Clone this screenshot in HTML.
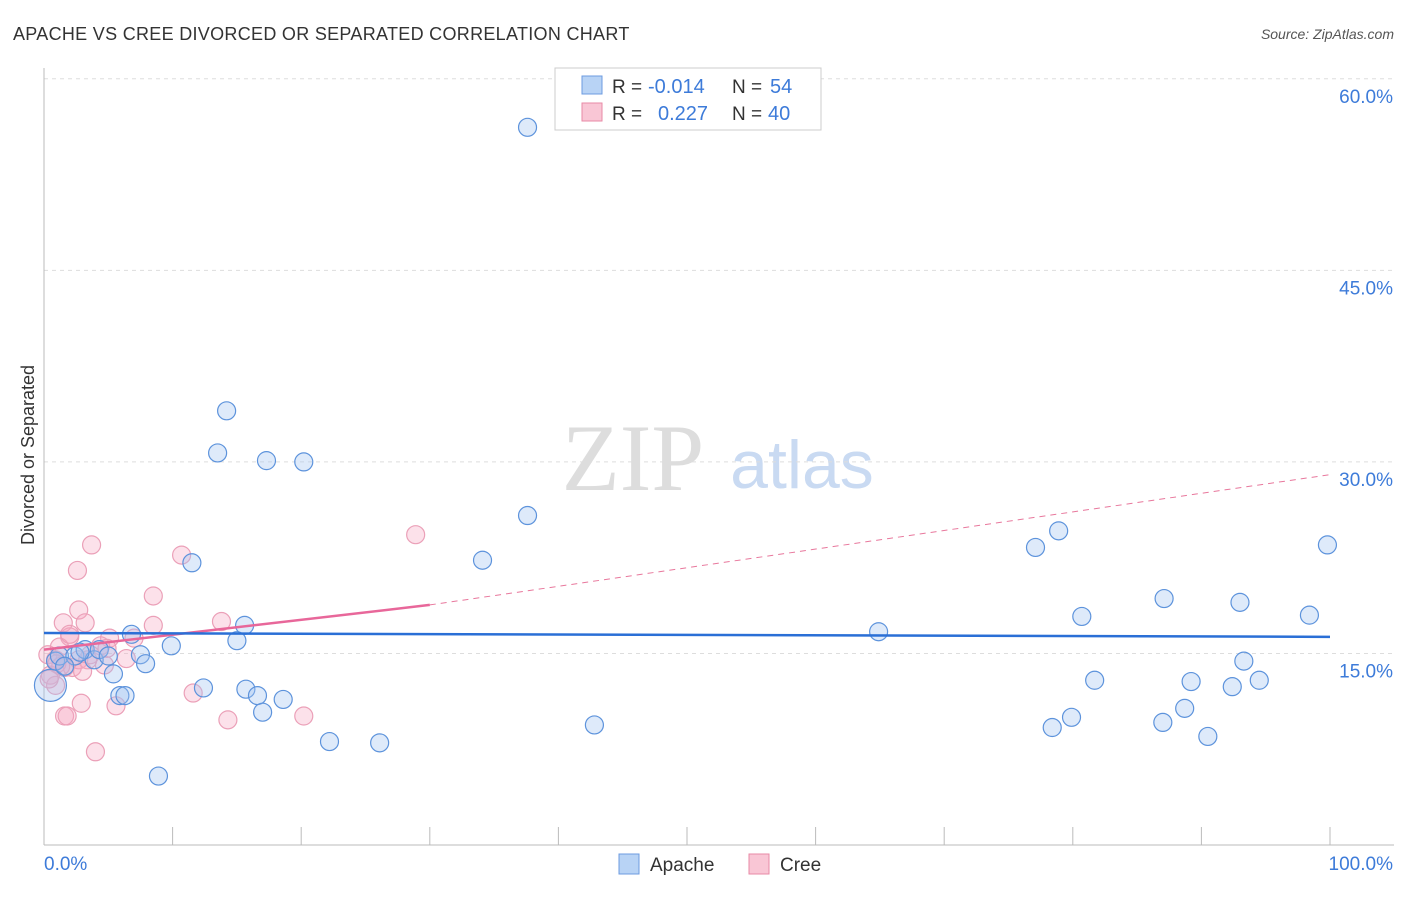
<!DOCTYPE html>
<html><head><meta charset="utf-8"><style>
body{margin:0;background:#fff;font-family:"Liberation Sans",sans-serif}
</style></head><body>
<svg id="c" width="1406" height="892" xmlns="http://www.w3.org/2000/svg">
<text x="13" y="40" font-size="18" letter-spacing="0.3" fill="#333">APACHE VS CREE DIVORCED OR SEPARATED CORRELATION CHART</text>
<text x="1394" y="39" font-size="14" fill="#555" font-style="italic" text-anchor="end">Source: ZipAtlas.com</text>
<text x="34" y="455" font-size="18" fill="#333" transform="rotate(-90 34 455)" text-anchor="middle">Divorced or Separated</text>
<text x="633" y="490" font-size="95" fill="#ddd" font-family="Liberation Serif" text-anchor="middle">ZIP</text>
<text x="802" y="488" font-size="68" fill="#c9daf2" text-anchor="middle">atlas</text>
<g id="grid"></g><g id="pts"></g><g id="lines"></g>
<g>
<rect x="555" y="68" width="266" height="62" fill="#fff" stroke="#ccc"/>
<rect x="582" y="76" width="20" height="18" fill="#b8d3f5" stroke="#6c9be0"/>
<rect x="582" y="103" width="20" height="18" fill="#f9c6d5" stroke="#e88aa6"/>
<text x="612" y="93" font-size="19" fill="#333">R =</text>
<text x="648" y="93" font-size="20" fill="#3d7bd9">-0.014</text>
<text x="732" y="93" font-size="19" fill="#333">N =</text>
<text x="770" y="93" font-size="20" fill="#3d7bd9">54</text>
<text x="612" y="120" font-size="19" fill="#333">R =</text>
<text x="658" y="120" font-size="20" fill="#3d7bd9">0.227</text>
<text x="732" y="120" font-size="19" fill="#333">N =</text>
<text x="768" y="120" font-size="20" fill="#3d7bd9">40</text>
</g>
<g>
<rect x="619" y="854" width="20" height="20" fill="#b8d3f5" stroke="#6c9be0"/>
<text x="650" y="871" font-size="19" fill="#333">Apache</text>
<rect x="749" y="854" width="20" height="20" fill="#f9c6d5" stroke="#e88aa6"/>
<text x="780" y="871" font-size="19" fill="#333">Cree</text>
</g>
<text x="44" y="870" font-size="19" fill="#3d7bd9">0.0%</text>
<text x="1393" y="870" font-size="19" fill="#3d7bd9" text-anchor="end">100.0%</text>
</svg>
<script>
const yTicks=[15,30,45,60];
const xTicks=[0,10,20,30,40,50,60,70,80,90,100];
const apacheX=[37.6,14.2,13.5,17.3,20.2,37.6,34.1,11.5,78.9,77.1,99.8,87.1,93.0,80.7,98.4,64.9,15.6,6.8,15.0,9.9,7.5,7.9,5.4,93.3,81.7,89.2,94.5,92.4,12.4,15.7,16.6,18.6,5.9,6.3,17.0,79.9,88.7,87.0,78.4,42.8,90.5,22.2,26.1,8.9,0.5,0.9,1.2,2.4,3.2,3.9,4.3,5.0,2.8,1.6];
const apacheY=[56.2,34.0,30.7,30.1,30.0,25.8,22.3,22.1,24.6,23.3,23.5,19.3,19.0,17.9,18.0,16.7,17.2,16.5,16.0,15.6,14.9,14.2,13.4,14.4,12.9,12.8,12.9,12.4,12.3,12.2,11.7,11.4,11.7,11.7,10.4,10.0,10.7,9.6,9.2,9.4,8.5,8.1,8.0,5.4,12.5,14.4,14.8,14.8,15.3,14.5,15.3,14.8,15.1,14.0];
const creeX=[3.7,2.6,10.7,28.9,8.5,2.7,1.5,3.2,8.5,13.8,2.0,5.1,4.4,0.3,0.9,1.6,2.2,2.7,3.6,4.7,0.5,0.9,2.9,5.6,11.6,1.6,1.8,14.3,20.2,4.0,1.2,3.4,0.4,1.0,2.0,4.9,6.4,7.0,3.0,1.3];
const creeY=[23.5,21.5,22.7,24.3,19.5,18.4,17.4,17.4,17.2,17.5,16.3,16.2,15.6,14.9,14.5,13.9,13.9,14.5,14.9,14.1,13.3,12.5,11.1,10.9,11.9,10.1,10.1,9.8,10.1,7.3,15.5,14.5,13.0,14.2,16.5,15.4,14.6,16.2,13.6,14.0];
const blueLine=[[0,16.6],[100,16.3]];
const pinkSolid=[[0,15.3],[30,18.8]];
const pinkDash=[[30,18.8],[100,29.0]];
const X=v=>44+v*12.86, Y=v=>845-v*12.77;
const NS="http://www.w3.org/2000/svg";
function mk(t,a,p){const e=document.createElementNS(NS,t);for(const k in a)e.setAttribute(k,a[k]);document.getElementById(p).appendChild(e);return e;}
yTicks.forEach(t=>{const l=mk('line',{x1:44,x2:1394,y1:Y(t),y2:Y(t),stroke:'#ddd','stroke-dasharray':'4 4'},'grid');


const tx=mk('text',{x:1393,y:Y(t)+24,'font-size':19,fill:'#3d7bd9','text-anchor':'end'},'grid');tx.textContent=t.toFixed(1)+'%';

});
const ax=mk('line',{x1:44,x2:44,y1:68,y2:845,stroke:'#bbb'},'grid');


const bx=mk('line',{x1:44,x2:1394,y1:845,y2:845,stroke:'#bbb'},'grid');


xTicks.forEach(t=>{const l=mk('line',{x1:X(t),x2:X(t),y1:827,y2:845,stroke:'#bbb'},'grid');

});
creeX.forEach((v,i)=>{const c=mk('circle',{cx:X(v),cy:Y(creeY[i]),r:9,fill:'rgba(246,170,195,0.35)',stroke:'#eba0b8','stroke-width':1.2},'pts');

});
apacheX.forEach((v,i)=>{const c=mk('circle',{cx:X(v),cy:Y(apacheY[i]),r:i==44?16:9,fill:'rgba(160,195,240,0.35)',stroke:'#5d93dc','stroke-width':1.2},'pts');

});
function ln(d,s,w,da,n){const l=mk('line',{x1:X(d[0][0]),y1:Y(d[0][1]),x2:X(d[1][0]),y2:Y(d[1][1]),stroke:s,'stroke-width':w},'lines');if(da)l.setAttribute('stroke-dasharray',da);

}
ln(pinkDash,'#e8779c',1,'6 5','cree-trend-dashed');
ln(pinkSolid,'#e8679a',2.5,null,'cree-trend');
ln(blueLine,'#2a6fd6',2.5,null,'apache-trend');
</script>
</body></html>
